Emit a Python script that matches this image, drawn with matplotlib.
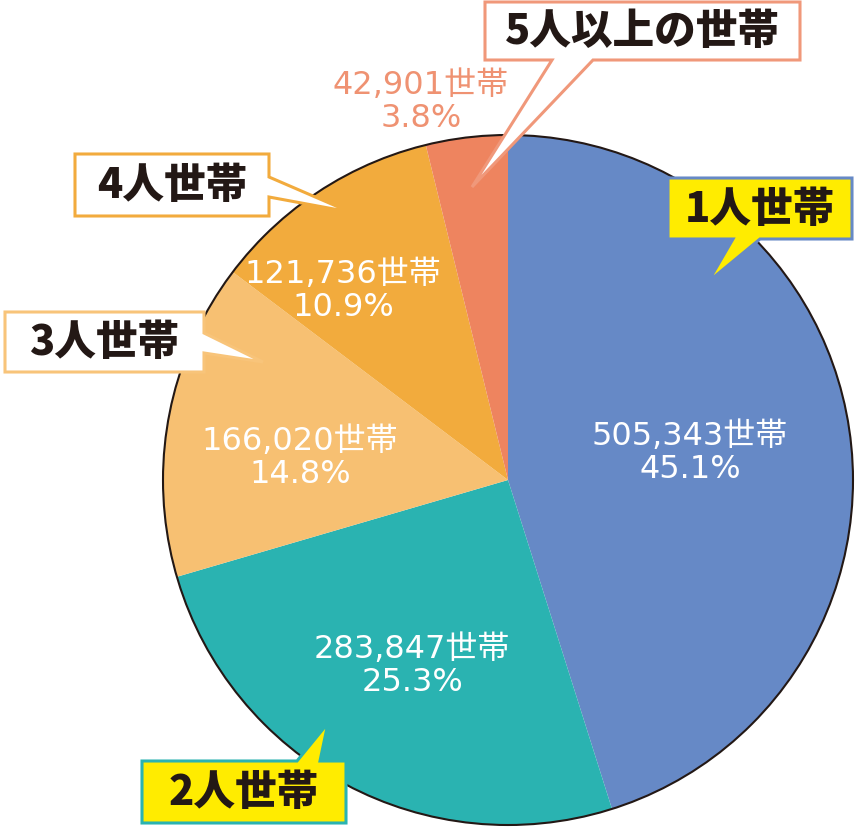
import matplotlib
matplotlib.use("Agg")
import matplotlib.pyplot as plt
from matplotlib.patches import Polygon, Circle

# ---- data ----
categories = ['1人世帯', '2人世帯', '3人世帯', '4人世帯', '5人以上の世帯']
households = [505343, 283847, 166020, 121736, 42901]
percents = [45.1, 25.3, 14.8, 10.9, 3.8]

# ---- styles ----
W, H = 860, 827
wedge_colors = ['#6689C6', '#2AB3B1', '#F7C072', '#F2AB3D', '#EE845F']
label_colors = ['white', 'white', 'white', 'white', '#EF9272']
label_pos = [(690, 453), (412, 666), (300, 458), (343, 291), (421, 102)]
box_fill = ['#FFEC00', '#FFEC00', 'white', 'white', 'white']
box_edge = ['#6689C6', '#2AB3B1', '#F8C47A', '#F2AB3D', '#F0987A']
# boxes: (x0, y0, x1, y1, side, base_a, base_b, tip_x, tip_y)
boxes = [
    (668, 178, 852, 239, 'bottom', 733, 760, 708, 282),
    (142, 761, 346, 823, 'top', 297, 320, 328, 723),
    (5, 312, 204, 372, 'right', 333, 353, 263, 362),
    (75, 154, 269, 216, 'right', 177, 197, 350, 212),
    (485, 2, 800, 60, 'bottom', 552, 593, 472, 187),
]

fig = plt.figure(figsize=(W / 100, H / 100), dpi=100)
ax = fig.add_axes([0, 0, 1, 1])
ax.set_xlim(0, W)
ax.set_ylim(0, H)
ax.set_aspect('equal')
ax.axis('off')


def Y(y):
    return H - y


cx, cy, r = 508, 480, 345
wedges, _ = ax.pie(households, colors=wedge_colors, startangle=90, counterclock=False,
                   center=(cx, Y(cy)), radius=r, frame=True,
                   wedgeprops=dict(linewidth=0, antialiased=True))
ax.set_xlim(0, W)
ax.set_ylim(0, H)
ax.axis('off')
ax.add_patch(Circle((cx, Y(cy)), r, fill=False, edgecolor='#231815', linewidth=1.5, zorder=3))

num_family = ['DejaVu Sans', 'Noto Sans CJK JP']
for i in range(len(categories)):
    x, y = label_pos[i]
    ax.text(x, Y(y), f"{households[i]:,}世帯\n{percents[i]}%", ha='center', va='center',
            fontsize=23, family=num_family, color=label_colors[i], linespacing=1.08, zorder=4)

for i, cat in enumerate(categories):
    x0, y0, x1, y1, side, a, b, tx, ty = boxes[i]
    if side == 'bottom':
        pts = [(x0, y0), (x1, y0), (x1, y1), (b, y1), (tx, ty), (a, y1), (x0, y1)]
    elif side == 'top':
        pts = [(x0, y0), (a, y0), (tx, ty), (b, y0), (x1, y0), (x1, y1), (x0, y1)]
    else:  # right
        pts = [(x0, y0), (x1, y0), (x1, a), (tx, ty), (x1, b), (x1, y1), (x0, y1)]
    poly = Polygon([(px, Y(py)) for px, py in pts], closed=True, facecolor=box_fill[i],
                   edgecolor=box_edge[i], linewidth=2.2, joinstyle='miter', zorder=5)
    ax.add_patch(poly)
    ax.text((x0 + x1) / 2, Y((y0 + y1) / 2 + 1), cat, ha='center', va='center',
            fontsize=30, family=['Noto Sans CJK JP'], fontweight='black',
            color='#231815', zorder=6)

fig.savefig('out.png', dpi=100)
